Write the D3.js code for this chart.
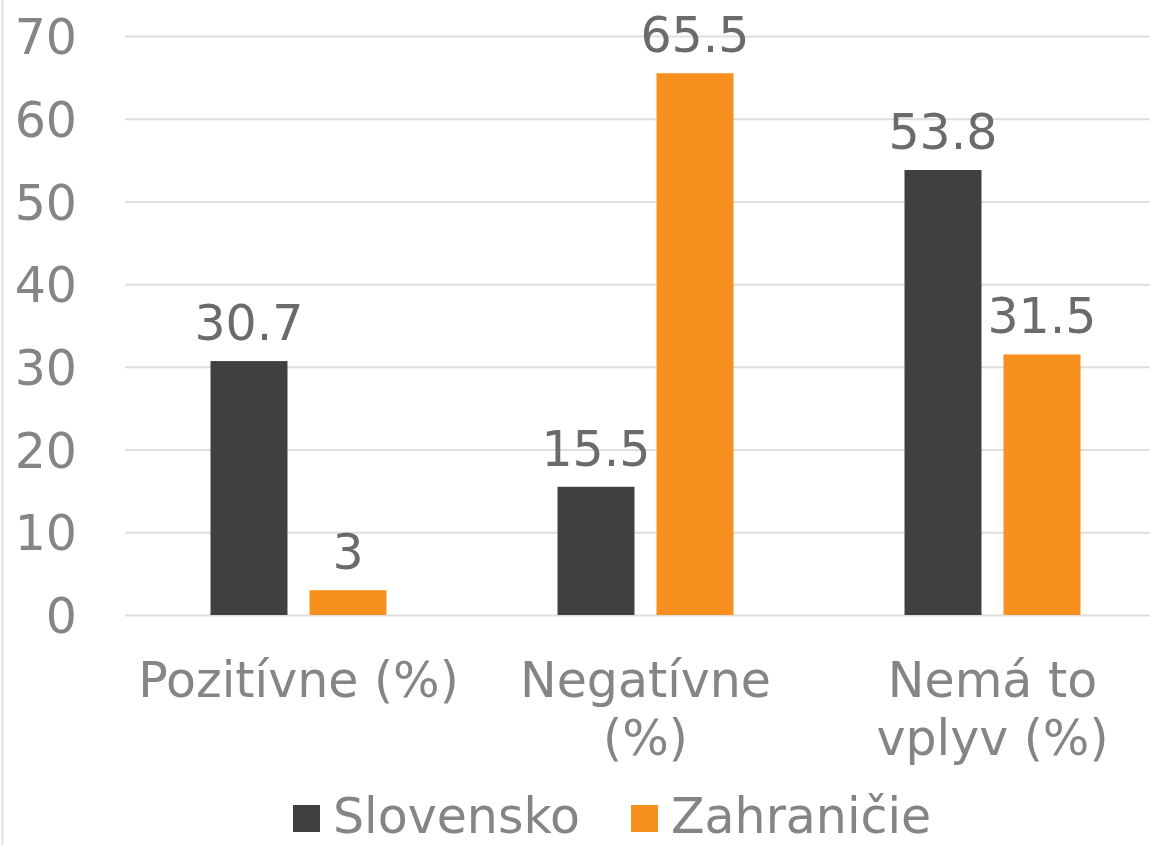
<!DOCTYPE html>
<html>
<head>
<meta charset="utf-8">
<script src="https://cdn.jsdelivr.net/npm/d3@7"></script>
<style>
  body { margin: 0; background: #ffffff; }
  svg { display: block; font-family: "DejaVu Sans", Verdana, sans-serif; }
  .domain { display: none; }
</style>
</head>
<body>
<div id="chart"></div>
<script>
const categories = ["Pozitívne (%)", "Negatívne (%)", "Nemá to vplyv (%)"];
const categoryLines = [["Pozitívne (%)"], ["Negatívne", "(%)"], ["Nemá to", "vplyv (%)"]];
const series = ["Slovensko", "Zahraničie"];
const slovensko = [30.7, 15.5, 53.8];
const zahranicie = [3, 65.5, 31.5];
const yTicks = [0, 10, 20, 30, 40, 50, 60, 70];

const colors = ["#404042", "#f7901e"];

const width = 1150;
const height = 845;
const plotLeft = 125;
const plotRight = 1166;
const plotTop = 36;
const plotBottom = 615;

const rows = [];
categories.forEach((c, i) => {
  rows.push({ cat: c, series: series[0], value: slovensko[i] });
  rows.push({ cat: c, series: series[1], value: zahranicie[i] });
});

const svg = d3
  .select("#chart")
  .append("svg")
  .attr("width", width)
  .attr("height", height);

// thin border on the left
svg
  .append("line")
  .attr("x1", 2.5)
  .attr("x2", 2.5)
  .attr("y1", 0)
  .attr("y2", height)
  .attr("stroke", "#e2e2e2")
  .attr("stroke-width", 2);

const x0 = d3.scaleBand().domain(categories).range([plotLeft, plotRight]);

const x1 = d3
  .scaleBand()
  .domain(series)
  .range([0, x0.bandwidth()])
  .paddingInner(22 / 99)
  .paddingOuter(0.8636);

const y = d3.scaleLinear().domain([0, 70]).range([plotBottom, plotTop]);

// y axis + gridlines
const yAxis = d3
  .axisLeft(y)
  .tickValues(yTicks)
  .tickSize(-(plotRight - plotLeft))
  .tickPadding(48);

const gy = svg
  .append("g")
  .attr("transform", `translate(${plotLeft},0)`)
  .call(yAxis);

gy.selectAll(".tick line").attr("stroke", "#dedede").attr("stroke-width", 2);
gy.selectAll(".tick text")
  .attr("fill", "#858585")
  .attr("font-size", 49)
  .attr("font-family", null)
  .attr("dy", "0.36em");
gy.attr("font-family", null).attr("font-size", null);

// bars
svg
  .selectAll("rect.bar")
  .data(rows)
  .enter()
  .append("rect")
  .attr("class", "bar")
  .attr("x", (d) => x0(d.cat) + x1(d.series))
  .attr("y", (d) => y(d.value))
  .attr("width", x1.bandwidth())
  .attr("height", (d) => y(0) - y(d.value))
  .attr("fill", (d) => colors[series.indexOf(d.series)]);

// value labels
svg
  .selectAll("text.val")
  .data(rows)
  .enter()
  .append("text")
  .attr("class", "val")
  .attr("x", (d) => x0(d.cat) + x1(d.series) + x1.bandwidth() / 2)
  .attr("y", (d) => y(d.value) - 21)
  .attr("text-anchor", "middle")
  .attr("font-size", 49)
  .attr("fill", "#6b6b6b")
  .text((d) => d.value);

// category labels
const catG = svg
  .selectAll("text.cat")
  .data(categories)
  .enter()
  .append("text")
  .attr("class", "cat")
  .attr("text-anchor", "middle")
  .attr("font-size", 49)
  .attr("fill", "#858585");

catG
  .selectAll("tspan")
  .data((d, i) => categoryLines[i].map((t) => ({ t, c: d })))
  .enter()
  .append("tspan")
  .attr("x", (d) => x0(d.c) + x0.bandwidth() / 2)
  .attr("y", (d, i) => 697 + i * 58)
  .text((d) => d.t);

// legend
const legendX = [293, 631];
const legend = svg
  .selectAll("g.legend")
  .data(series)
  .enter()
  .append("g")
  .attr("class", "legend")
  .attr("transform", (d, i) => `translate(${legendX[i]},805)`);

legend
  .append("rect")
  .attr("width", 27)
  .attr("height", 27)
  .attr("fill", (d, i) => colors[i]);

legend
  .append("text")
  .attr("x", 40)
  .attr("y", 28)
  .attr("font-size", 49)
  .attr("fill", "#858585")
  .text((d) => d);
</script>
</body>
</html>
